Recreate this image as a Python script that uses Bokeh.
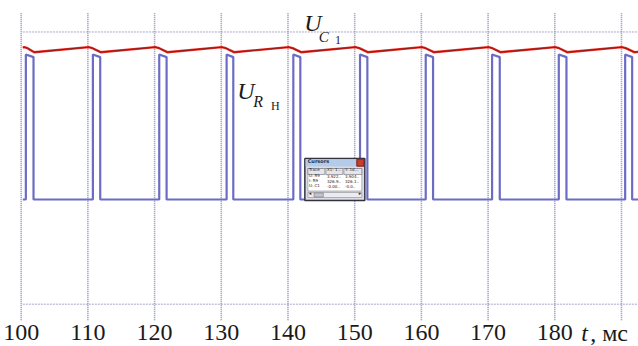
from bokeh.plotting import figure
from bokeh.models import Range1d, Label
from bokeh.embed import file_html
from bokeh.resources import INLINE
from bokeh.core.properties import value

# ---- data ----
tick_values = [100, 110, 120, 130, 140, 150, 160, 170, 180, 190]
tick_labels = ["100", "110", "120", "130", "140", "150", "160", "170", "180", ""]
hgrid_values = [-10, 16]

# U_RH pulses (ms, V)
pulse_on = [100.70, 110.75, 120.70, 130.80, 140.80, 150.80, 160.65, 170.60, 180.60, 190.55]
pulse_off = [101.85, 111.85, 121.80, 131.80, 141.85, 151.90, 161.75, 171.75, 181.75, 191.60]
pulse_top_start = [13.85, 13.85, 13.85, 13.85, 13.85, 13.85, 13.85, 13.85, 13.85, 13.85]
pulse_top_end = [13.60, 13.60, 13.60, 13.60, 13.60, 13.60, 13.60, 13.60, 13.60, 13.60]
pulse_low = 0.0

# U_C1 sawtooth (ms, V)
uc1_peak_t = [100.45, 110.10, 120.10, 130.05, 140.10, 150.10, 160.05, 170.05, 180.05, 190.05]
uc1_peak_v = [14.55, 14.55, 14.55, 14.55, 14.55, 14.55, 14.55, 14.55, 14.55, 14.55]
uc1_knee_t = [100.95, 110.70, 120.70, 130.70, 140.70, 150.70, 160.65, 170.65, 180.65, 190.65]
uc1_knee_v = [14.45, 14.45, 14.45, 14.45, 14.45, 14.45, 14.45, 14.45, 14.45, 14.45]
uc1_min_t = [101.95, 111.90, 121.90, 131.90, 141.95, 151.95, 161.85, 171.85, 181.85, 191.90]
uc1_min_v = [14.07, 14.07, 14.07, 14.07, 14.07, 14.07, 14.07, 14.07, 14.07, 14.07]
uc1_start = (100.25, 14.50)
uc1_end = (192.55, 14.10)
trace_start = 100.25
trace_end = 192.55

# ---- build paths ----
ux = [trace_start]
uy = [pulse_low]
for on, off, a, b in zip(pulse_on, pulse_off, pulse_top_start, pulse_top_end):
    ux += [on, on, off, off]
    uy += [pulse_low, a, b, pulse_low]
ux.append(trace_end)
uy.append(pulse_low)

cx = [uc1_start[0]]
cy = [uc1_start[1]]
for pt, pv, kt, kv, mt, mv in zip(uc1_peak_t, uc1_peak_v, uc1_knee_t, uc1_knee_v, uc1_min_t, uc1_min_v):
    cx += [pt, kt, mt]
    cy += [pv, kv, mv]
cx.append(uc1_end[0])
cy.append(uc1_end[1])

Y_TOP = 17.86
Y_GRID_BOTTOM = -11.53
Y_BOTTOM = -14.04
X_LEFT = 96.9

p = figure(width=638, height=346, output_backend="svg", toolbar_location=None,
           x_range=Range1d(X_LEFT, trace_end), y_range=Range1d(Y_BOTTOM, Y_TOP),
           x_axis_location=None, y_axis_location=None, min_border_left=0, min_border_right=0,
           min_border_top=12, min_border_bottom=0)
p.outline_line_color = None
p.background_fill_color = "white"
p.border_fill_color = "white"
for g in list(p.xgrid) + list(p.ygrid):
    g.visible = False

# horizontal grid lines
p.segment(x0=[trace_start] * len(hgrid_values), x1=[trace_end] * len(hgrid_values),
          y0=hgrid_values, y1=hgrid_values, line_color="#a8a8cc", line_width=1, line_dash="2 1")
# vertical grid lines (stop above the tick labels)
p.segment(x0=tick_values, x1=tick_values, y0=[Y_GRID_BOTTOM] * len(tick_values),
          y1=[Y_TOP] * len(tick_values), line_color="#9090bc", line_width=1.6, line_dash="1 1")

# tick labels
lab_x = [v for v, s in zip(tick_values, tick_labels) if s]
lab_t = [s for s in tick_labels if s]
p.text(x=lab_x, y=[-12.72] * len(lab_x), text=lab_t, text_font=value("Liberation Serif"),
       text_font_size="24px", text_color="#1a1a1a", text_align="center", text_baseline="alphabetic")

# traces
p.line(ux, uy, line_color="#6c6cc4", line_width=2.2)
p.line(cx, cy, line_color="#e52a20", line_width=2.4)
p.line(cx, cy, line_color="#5a0e0e", line_width=1.0, line_alpha=0.6)

# cursors dialog (decoration)
p.quad(left=142.53, right=151.52, bottom=-0.10, top=3.92, fill_color="#dcdce4",
       line_color="#33333f", line_width=1.5)
p.quad(left=142.65, right=151.40, bottom=3.15, top=3.85, fill_color="#b4cce8", line_color=None)
p.quad(left=150.32, right=151.37, bottom=3.18, top=3.85, fill_color="#c83c2c", line_color="#7a2018")
p.quad(left=142.98, right=151.07, bottom=0.81, top=2.96, fill_color="white", line_color="#8a8a94",
       line_width=0.6)
p.quad(left=[142.98, 145.68, 148.38], right=[145.53, 148.23, 151.07], bottom=[2.39] * 3,
       top=[2.96] * 3, fill_color="#e6e6ea", line_color="#6a6a74", line_width=0.6)
p.quad(left=142.98, right=151.07, bottom=0.19, top=0.67, fill_color="#ececf0", line_color="#8a8a94",
       line_width=0.6)
p.quad(left=143.9, right=145.3, bottom=0.24, top=0.62, fill_color="#c4c4cc", line_color="#6a6a74",
       line_width=0.5)
p.text(x=[142.95], y=[3.38], text=["Cursors"], text_font=value("DejaVu Sans"),
       text_font_size="5px", text_font_style="bold", text_color="#203050")
p.text(x=[143.15, 145.85, 148.55], y=[2.6] * 3, text=["Trace", "X1: 1...", "Y: 1d..."],
       text_font=value("DejaVu Sans"), text_font_size="4px", text_color="#222")
rows_x = [143.15, 145.85, 148.55]
rows = [["U: R9", "3.922..", "3.904.."], ["I: R9", "326.9..", "326.1.."], ["U: C1", "-0.00..", "-0.0.."]]
rows_y = [2.08, 1.61, 1.13]
for r, yy in zip(rows, rows_y):
    p.text(x=rows_x, y=[yy] * 3, text=r, text_font=value("DejaVu Sans"), text_font_size="4px",
           text_color="#222")
p.text(x=[143.1, 150.6], y=[0.38, 0.38], text=["◂", "▸"], text_font=value("DejaVu Sans"),
       text_font_size="5px", text_color="#333")

# trace labels
serif = "Liberation Serif"
def lab(x, y, t, size, italic=True):
    p.add_layout(Label(x=x, y=y, text=t, text_font=serif,
                       text_font_style="italic" if italic else "normal",
                       text_font_size=size, text_color="#1a1a1a", text_baseline="alphabetic"))

lab(142.45, 16.90, "U", "24px")
lab(144.62, 15.55, "C", "15px")
lab(147.05, 15.20, "1", "12px", italic=False)
lab(132.40, 10.35, "U", "24px")
lab(134.80, 9.38, "R", "16px")
lab(137.45, 8.90, "Н", "12px", italic=False)

# axis unit label
lab(183.95, -12.72, "t", "24px")
lab(185.30, -12.72, ", мс", "24px", italic=False)

open("out.html", "w").write(file_html(p, INLINE))
